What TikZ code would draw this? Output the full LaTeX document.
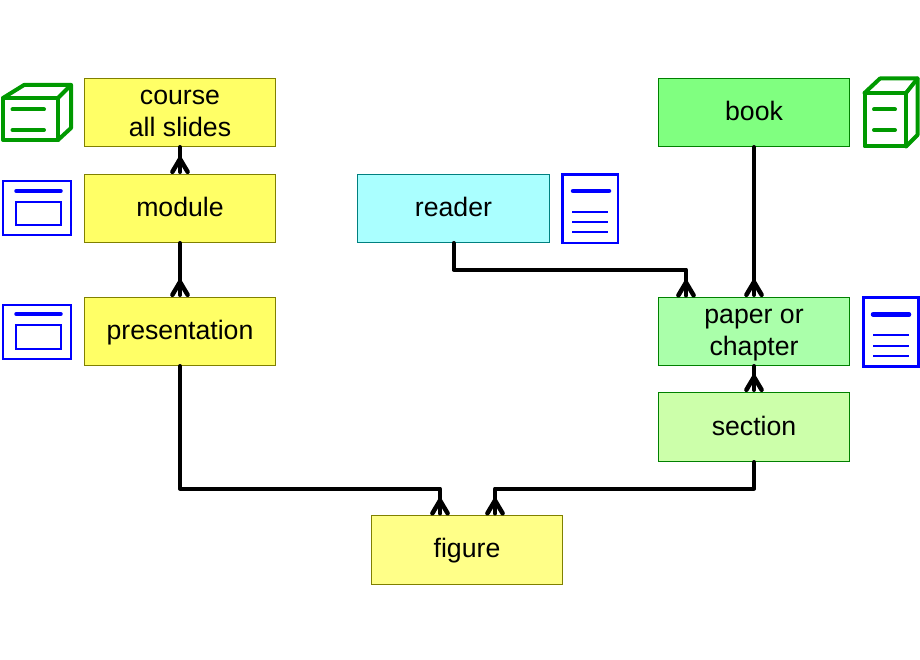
\documentclass[tikz,border=0pt]{standalone}
\usepackage{fontspec}
\setmainfont{Liberation Sans}
\usetikzlibrary{arrows.meta}
\pgfdeclarearrow{
  name=CrowFoot,
  setup code={
    \pgfarrowssettipend{0pt}
    \pgfarrowssetlineend{-2pt}
    \pgfarrowssetvisualbackend{-17pt}
    \pgfarrowssetbackend{-17pt}
    \pgfarrowshullpoint{0pt}{9pt}
    \pgfarrowshullpoint{0pt}{-9pt}
    \pgfarrowshullpoint{-17pt}{0pt}
  },
  drawing code={
    \pgfsetdash{}{0pt}
    \pgfsetroundcap
    \pgfsetroundjoin
    \pgfsetlinewidth{4.5pt}
    \pgfpathmoveto{\pgfqpoint{-2.2pt}{7.6pt}}
    \pgfpathlineto{\pgfqpoint{-15pt}{0pt}}
    \pgfpathlineto{\pgfqpoint{-2.2pt}{-7.6pt}}
    \pgfusepathqstroke
  }
}
\newcommand{\bstrut}{\rule[-5pt]{0pt}{26pt}}
\definecolor{yfill}{HTML}{FFFF66}
\definecolor{yedge}{HTML}{808000}
\definecolor{figfill}{HTML}{FFFF88}
\definecolor{bookfill}{HTML}{80FF80}
\definecolor{paperfill}{HTML}{AAFFAA}
\definecolor{secfill}{HTML}{CCFFAA}
\definecolor{gedge}{HTML}{008000}
\definecolor{rfill}{HTML}{AAFFFF}
\definecolor{redge}{HTML}{008080}
\definecolor{icogreen}{HTML}{009900}
\definecolor{icoblue}{HTML}{0000FF}
\tikzset{
  box/.style={draw, line width=1pt, minimum width=191pt, minimum height=68pt, inner sep=0pt, align=center,
    text=black, font=\fontsize{26.67}{32}\selectfont},
  ybox/.style={box, fill=yfill, draw=yedge},
  link/.style={draw=black, line width=4pt, line join=round, line cap=round},
  crow/.style={link, -{CrowFoot}},
  gicon/.style={draw=icogreen, line width=4pt, line join=round, line cap=round},
  bicon/.style={draw=icoblue, line width=2pt},
  bthick/.style={draw=icoblue, line width=4.5pt, line cap=round},
}
\begin{document}
\begin{tikzpicture}[x=1pt,y=-1pt]
\useasboundingbox (0,0) rectangle (920,660);
% boxes
\node[ybox] (course) at (180,112.5) {course\bstrut\\all slides\bstrut};
\node[ybox] (module) at (180,208.5) {module\bstrut};
\node[ybox] (pres) at (180,331.5) {presentation\bstrut};
\node[box, fill=rfill, draw=redge, minimum width=192pt] (reader) at (453.5,208.5) {reader\bstrut};
\node[box, fill=bookfill, draw=gedge] (book) at (754,112.5) {book\bstrut};
\node[box, fill=paperfill, draw=gedge] (paper) at (754,331.5) {paper or\bstrut\\chapter\bstrut};
\node[box, fill=secfill, draw=gedge, minimum height=69pt] (section) at (754,427) {section\bstrut};
\node[ybox, fill=figfill, minimum height=69pt] (figure) at (467,550) {figure\bstrut};
% connector end points
\coordinate (railr) at (0,269.5);
\coordinate (railf) at (0,488.5);
\coordinate (paperin) at (686,297.5);
\coordinate (figl) at (440,515.5);
\coordinate (figr) at (495,515.5);
% connectors
\draw[crow] (course.south) -- (module.north);
\draw[crow] (module.south) -- (pres.north);
\draw[crow] (book.south) -- (paper.north);
\draw[crow] (paper.south) -- (section.north);
\draw[crow] (reader.south) -- (reader.south |- railr) -| (paperin);
\draw[crow] (pres.south) -- (pres.south |- railf) -| (figl);
\draw[crow] (section.south) -- (section.south |- railf) -| (figr);
% green icon, left
\draw[gicon] (3,98) rectangle (58,140);
\draw[gicon] (3,98) -- (24,85) -- (71,85) -- (71,128) -- (58,140);
\draw[gicon] (58,98) -- (71,85);
\draw[gicon] (12.5,109.5) -- (44,109.5);
\draw[gicon] (12.5,130) -- (44,130);
% green icon, right
\draw[gicon] (864.5,93) rectangle (906,146.5);
\draw[gicon] (864.5,93) -- (880,78.5) -- (917.5,78.5) -- (917.5,135) -- (906,146.5);
\draw[gicon] (906,93) -- (917.5,78.5);
\draw[gicon] (874,109.5) -- (895,109.5);
\draw[gicon] (874,130) -- (895,130);
% window icons
\draw[bicon] (2.5,181.5) rectangle (71,235.5);
\draw[bthick, line width=3.5pt] (16,191) -- (61,191);
\draw[bicon] (16,202) rectangle (61,225.5);
\draw[bicon] (2.5,304.5) rectangle (71,358.5);
\draw[bthick, line width=3.5pt] (16,314) -- (61,314);
\draw[bicon] (16,325) rectangle (61,348.5);
% document icons
\draw[bicon, line width=2.6pt] (562.5,174.5) rectangle (618,243);
\draw[bthick] (573,191) -- (609,191);
\draw[bicon] (572,212) -- (608,212) (572,222.5) -- (608,222.5) (572,232.5) -- (608,232.5);
\draw[bicon, line width=2.6pt] (863.5,297.5) rectangle (918.5,366.5);
\draw[bthick] (873,314.5) -- (909,314.5);
\draw[bicon] (873,335) -- (909,335) (873,345.5) -- (909,345.5) (873,356) -- (909,356);
\end{tikzpicture}
\end{document}
